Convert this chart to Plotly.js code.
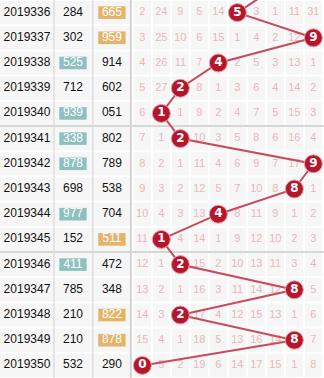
<!DOCTYPE html>
<html><head><meta charset="utf-8">
<script src="https://cdn.plot.ly/plotly-3.0.1.min.js"></script>
<style>html,body{margin:0;padding:0;background:#fff}#chart{width:324px;height:378px}</style>
</head><body><div id="chart"></div>
<script>
// ---- data ----
const periods = ['2019336','2019337','2019338','2019339','2019340','2019341','2019342','2019343','2019344','2019345','2019346','2019347','2019348','2019349','2019350'];
const drawA = ['284','302','525','712','939','338','878','698','977','152','411','785','210','210','532'];
const drawB = ['665','959','914','602','051','802','789','538','704','511','472','348','822','878','290'];
const markA = [0,0,1,0,1,1,1,0,1,0,1,0,0,0,0];
const markB = [1,1,0,0,0,0,0,0,0,1,0,0,1,1,0];
const hitDigit = [5,9,4,2,1,2,9,8,4,1,2,8,2,8,0];
const prevPeriodHit = 7;
const missRows = [
  [2,24,9,5,14,0,3,1,11,31],
  [3,25,10,6,15,1,4,2,12,0],
  [4,26,11,7,0,2,5,3,13,1],
  [5,27,0,8,1,3,6,4,14,2],
  [6,0,1,9,2,4,7,5,15,3],
  [7,1,0,10,3,5,8,6,16,4],
  [8,2,1,11,4,6,9,7,17,0],
  [9,3,2,12,5,7,10,8,0,1],
  [10,4,3,13,0,8,11,9,1,2],
  [11,0,4,14,1,9,12,10,2,3],
  [12,1,0,15,2,10,13,11,3,4],
  [13,2,1,16,3,11,14,12,0,5],
  [14,3,0,17,4,12,15,13,1,6],
  [15,4,1,18,5,13,16,14,0,7],
  [0,5,2,19,6,14,17,15,1,8]
];
const digits = [0,1,2,3,4,5,6,7,8,9];

// ---- layout helpers (x in digit-column units, y in row units) ----
const X_PERIOD = -6.07, X_A = -3.65, X_B = -1.60;
const n = periods.length;
const rows = periods.map((p,i)=>i);

const shapes = [];
// background
shapes.push({type:'rect',xref:'paper',yref:'paper',x0:0,x1:1,y0:0,y1:1,fillcolor:'#f6f6f6',line:{width:0},layer:'below'});
// row lines
for (let i=0;i<=n;i++){
  shapes.push({type:'line',x0:-7.6,x1:9.6,y0:i-0.5,y1:i-0.5,line:{color:'#ffffff',width:2},layer:'below'});
}
// digit vertical lines
for (let d=0; d<=digits.length; d++){
  shapes.push({type:'line',x0:d-0.5,x1:d-0.5,y0:-0.6,y1:n,line:{color:'#ffffff',width:2},layer:'below'});
}
// left column separators
[-4.65,-2.6].forEach(x=>shapes.push({type:'line',x0:x,x1:x,y0:-0.6,y1:n,line:{color:'#d8d8d8',width:1.2},layer:'below'}));
shapes.push({type:'line',x0:-0.6,x1:-0.6,y0:-0.6,y1:n,line:{color:'#d4d4d4',width:2},layer:'below'});
// block separators every 5 rows
for (let i=5;i<n;i+=5){
  shapes.push({type:'line',x0:-7.6,x1:9.6,y0:i-0.5,y1:i-0.5,line:{color:'#d6d6d6',width:2},layer:'below'});
}
// highlight boxes
rows.forEach(i=>{
  if (markA[i]) shapes.push({type:'rect',x0:X_A-0.72,x1:X_A+0.72,y0:i-0.25,y1:i+0.25,fillcolor:'#8fc0c0',line:{width:0},layer:'below'});
  if (markB[i]) shapes.push({type:'rect',x0:X_B-0.72,x1:X_B+0.72,y0:i-0.25,y1:i+0.25,fillcolor:'#e5b46b',line:{width:0},layer:'below'});
});

const fontL = {family:'Liberation Sans, Arial, sans-serif',size:12,color:'#111111'};
const traces = [];
traces.push({type:'scatter',mode:'text',x:rows.map(()=>X_PERIOD),y:rows,text:periods,textfont:fontL,hoverinfo:'skip'});
traces.push({type:'scatter',mode:'text',x:rows.map(()=>X_A),y:rows,text:drawA,
  textfont:{family:fontL.family,size:12,color:rows.map(i=>markA[i]?'#ffffff':'#111111')},hoverinfo:'skip'});
traces.push({type:'scatter',mode:'text',x:rows.map(()=>X_B),y:rows,text:drawB,
  textfont:{family:fontL.family,size:12,color:rows.map(i=>markB[i]?'#ffffff':'#111111')},hoverinfo:'skip'});

// miss values
const mx=[],my=[],mt=[];
rows.forEach(i=>digits.forEach(d=>{
  if (d!==hitDigit[i]){ mx.push(d); my.push(i); mt.push(String(missRows[i][d])); }
}));
traces.push({type:'scatter',mode:'text',x:mx,y:my,text:mt,
  textfont:{family:'Liberation Sans, Arial, sans-serif',size:11,color:'#e8b8b8'},hoverinfo:'skip'});

// trend line (includes previous period point above the top)
traces.push({type:'scatter',mode:'lines',x:[prevPeriodHit].concat(hitDigit),y:[-1].concat(rows),
  line:{color:'#c94a5c',width:2},hoverinfo:'skip'});
// hit balls
traces.push({type:'scatter',mode:'markers+text',x:hitDigit,y:rows,text:hitDigit.map(String),
  marker:{size:18,color:'#b5162c',line:{color:'#e7a0a8',width:1}},
  textfont:{family:'DejaVu Sans, sans-serif',size:12,color:'#ffffff',weight:'bold'},
  textposition:'middle center',hoverinfo:'skip'});

const layout = {
  width:324,height:378,margin:{l:0,r:0,t:0,b:0},
  paper_bgcolor:'#ffffff',plot_bgcolor:'#f6f6f6',showlegend:false,
  xaxis:{range:[-7.49,9.56],visible:false,fixedrange:true},
  yaxis:{range:[n-0.5,-0.5],visible:false,fixedrange:true},
  shapes:shapes
};
Plotly.newPlot('chart',traces,layout,{staticPlot:true,displayModeBar:false});
</script></body></html>
